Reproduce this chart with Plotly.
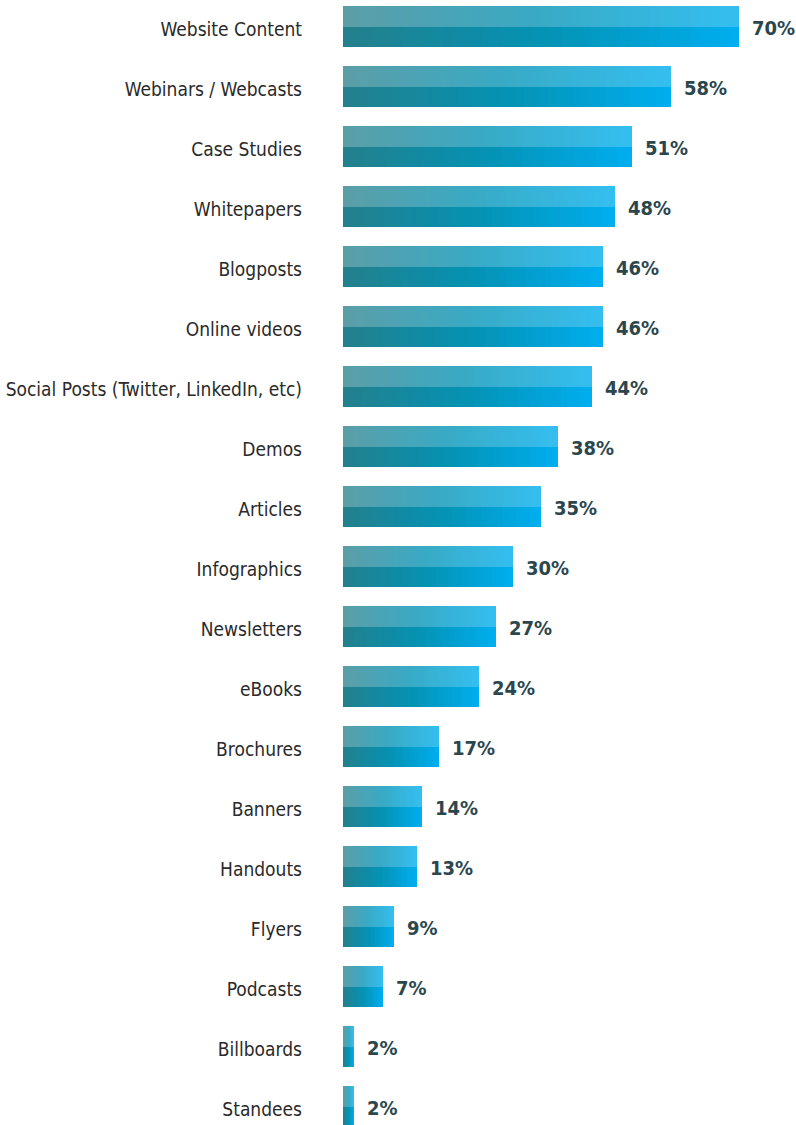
import plotly.graph_objects as go

categories = ["Website Content", "Webinars / Webcasts", "Case Studies", "Whitepapers",
              "Blogposts", "Online videos", "Social Posts (Twitter, LinkedIn, etc)", "Demos",
              "Articles", "Infographics", "Newsletters", "eBooks", "Brochures", "Banners",
              "Handouts", "Flyers", "Podcasts", "Billboards", "Standees"]
values = [70, 58, 51, 48, 46, 46, 44, 38, 35, 30, 27, 24, 17, 14, 13, 9, 7, 2, 2]
value_labels = [f"{v}%" for v in values]

top_stops = [(0.0, (92, 158, 167)), (0.5, (56, 170, 198)), (1.0, (52, 191, 240))]
bot_stops = [(0.0, (36, 128, 140)), (0.5, (4, 146, 180)), (1.0, (0, 174, 239))]

FONT = "DejaVu Sans Condensed, sans-serif"


def interp(stops, t):
    for (t0, c0), (t1, c1) in zip(stops[:-1], stops[1:]):
        if t <= t1:
            f = (t - t0) / (t1 - t0) if t1 > t0 else 0
            return "rgb(%d,%d,%d)" % tuple(round(a + (b - a) * f) for a, b in zip(c0, c1))
    return "rgb(%d,%d,%d)" % stops[-1][1]


N = 40
pos = list(range(len(categories)))
half = 0.34
fig = go.Figure()
for stops, shift in ((top_stops, -half / 2), (bot_stops, half / 2)):
    for k in range(N):
        frac = (N - k) / N
        t = (N - k - 0.5) / N
        fig.add_trace(go.Bar(
            x=[v * frac for v in values],
            y=[p + shift for p in pos],
            orientation="h",
            width=half,
            marker=dict(color=interp(stops, t), line=dict(width=0)),
            hoverinfo="skip",
            showlegend=False,
        ))

for v, p, lab in zip(values, pos, value_labels):
    fig.add_annotation(x=v, y=p, text=lab, showarrow=False, xanchor="left",
                       yanchor="middle", xshift=11, yshift=-1,
                       font=dict(family=FONT, size=20, color="#2b474d", weight="bold"))

fig.update_layout(
    barmode="overlay",
    width=796, height=1125,
    margin=dict(l=343, r=0, t=0, b=0),
    paper_bgcolor="white", plot_bgcolor="white",
    bargap=0,
    xaxis=dict(range=[0, 80], visible=False, fixedrange=True, automargin=False),
    yaxis=dict(range=[18.3083, -0.4417], tickvals=pos, ticktext=categories,
               showgrid=False, zeroline=False, showline=False, ticks="",
               ticklabelstandoff=40, ticklabelshift=-3, automargin=False,
               tickfont=dict(family=FONT, size=19, color="#2a2a2a")),
)
fig.write_html("out.html")
